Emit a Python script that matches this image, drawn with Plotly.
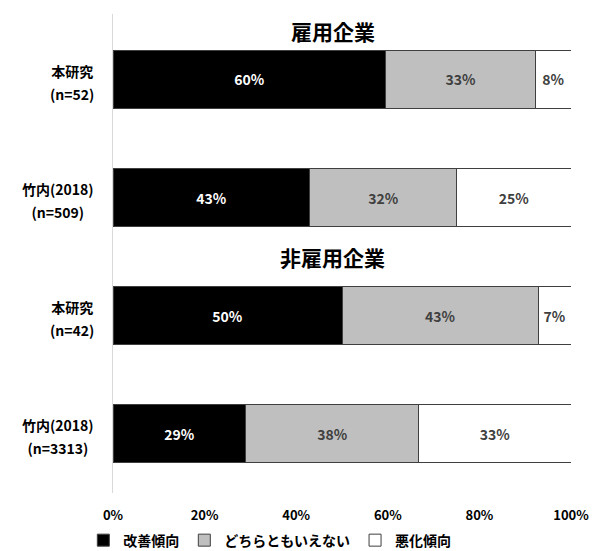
import plotly.graph_objects as go

# ---- data ----
study_names = ["本研究", "竹内(2018)", "本研究", "竹内(2018)"]
sample_sizes = ["(n=52)", "(n=509)", "(n=42)", "(n=3313)"]
categories = [f"{a}<br>{b}" for a, b in zip(study_names, sample_sizes)]

improve = [59.6, 43.0, 50.0, 29.0]      # 改善傾向
neutral = [32.7, 32.1, 42.9, 37.8]      # どちらともいえない
worse = [7.7, 24.9, 7.1, 33.2]          # 悪化傾向

series_names = ["改善傾向", "どちらともいえない", "悪化傾向"]
group_titles = ["雇用企業", "非雇用企業"]
group_title_pos = [-0.41, 1.5]          # category-index positions of group headings
x_ticks = [0, 20, 40, 60, 80, 100]

FONT = "Noto Sans CJK JP"
fills = ["#000000", "#bfbfbf", "#ffffff"]
text_colors = ["#ffffff", "#404040", "#404040"]

fig = go.Figure()
for vals, name, fc, tc in zip([improve, neutral, worse], series_names, fills, text_colors):
    fig.add_trace(go.Bar(
        y=categories, x=vals, name=f"<b>{name}</b>", orientation="h",
        marker=dict(color=fc, line=dict(color="#3f3f3f", width=1)),
        texttemplate="<b>%{x:.0f}%</b>", textposition="inside",
        insidetextanchor="middle", textangle=0,
        textfont=dict(family=FONT, size=14, color=tc),
        constraintext="none", hoverinfo="skip",
    ))

annotations = []
for t, p in zip(group_titles, group_title_pos):
    annotations.append(dict(text=f"<b>{t}</b>", x=0.48, xref="paper", y=p, yref="y",
                            showarrow=False, font=dict(family=FONT, size=21, color="#000000")))
for c, nm, n in zip(categories, study_names, sample_sizes):
    label = (f"<span style='font-size:14px'><b>{nm}</b></span><br>"
             f"<span style='font-size:14px'><b>{n}</b></span>")
    annotations.append(dict(text=label, x=0, xref="paper", y=c, yref="y",
                            xanchor="right", xshift=-17, yshift=-3, align="center",
                            showarrow=False,
                            font=dict(family=FONT, size=18, color="#000000")))

fig.update_layout(
    barmode="stack",
    bargap=0.51,
    width=593, height=551,
    margin=dict(l=113, r=22, t=14, b=58, autoexpand=False),
    paper_bgcolor="#ffffff", plot_bgcolor="#ffffff",
    font=dict(family=FONT, size=14, color="#000000"),
    xaxis=dict(range=[0, 100], tickvals=x_ticks, ticktext=[f"<b>{v}%</b>" for v in x_ticks],
               showgrid=False, zeroline=False, showline=False, ticks="",
               ticklabelstandoff=13, tickfont=dict(family=FONT, size=13, color="#000000")),
    yaxis=dict(type="category", categoryorder="array", categoryarray=categories,
               autorange="reversed", showticklabels=False, showgrid=False,
               showline=True, linecolor="#d9d9d9", linewidth=1, ticks=""),
    legend=dict(orientation="h", xref="container", x=0.455, xanchor="center",
                yref="container", y=0.048, yanchor="top", bgcolor="rgba(0,0,0,0)",
                font=dict(family=FONT, size=14, color="#000000"),
                traceorder="normal", itemwidth=30, tracegroupgap=0),
    annotations=annotations,
    showlegend=True,
)

fig.write_html("out.html")
